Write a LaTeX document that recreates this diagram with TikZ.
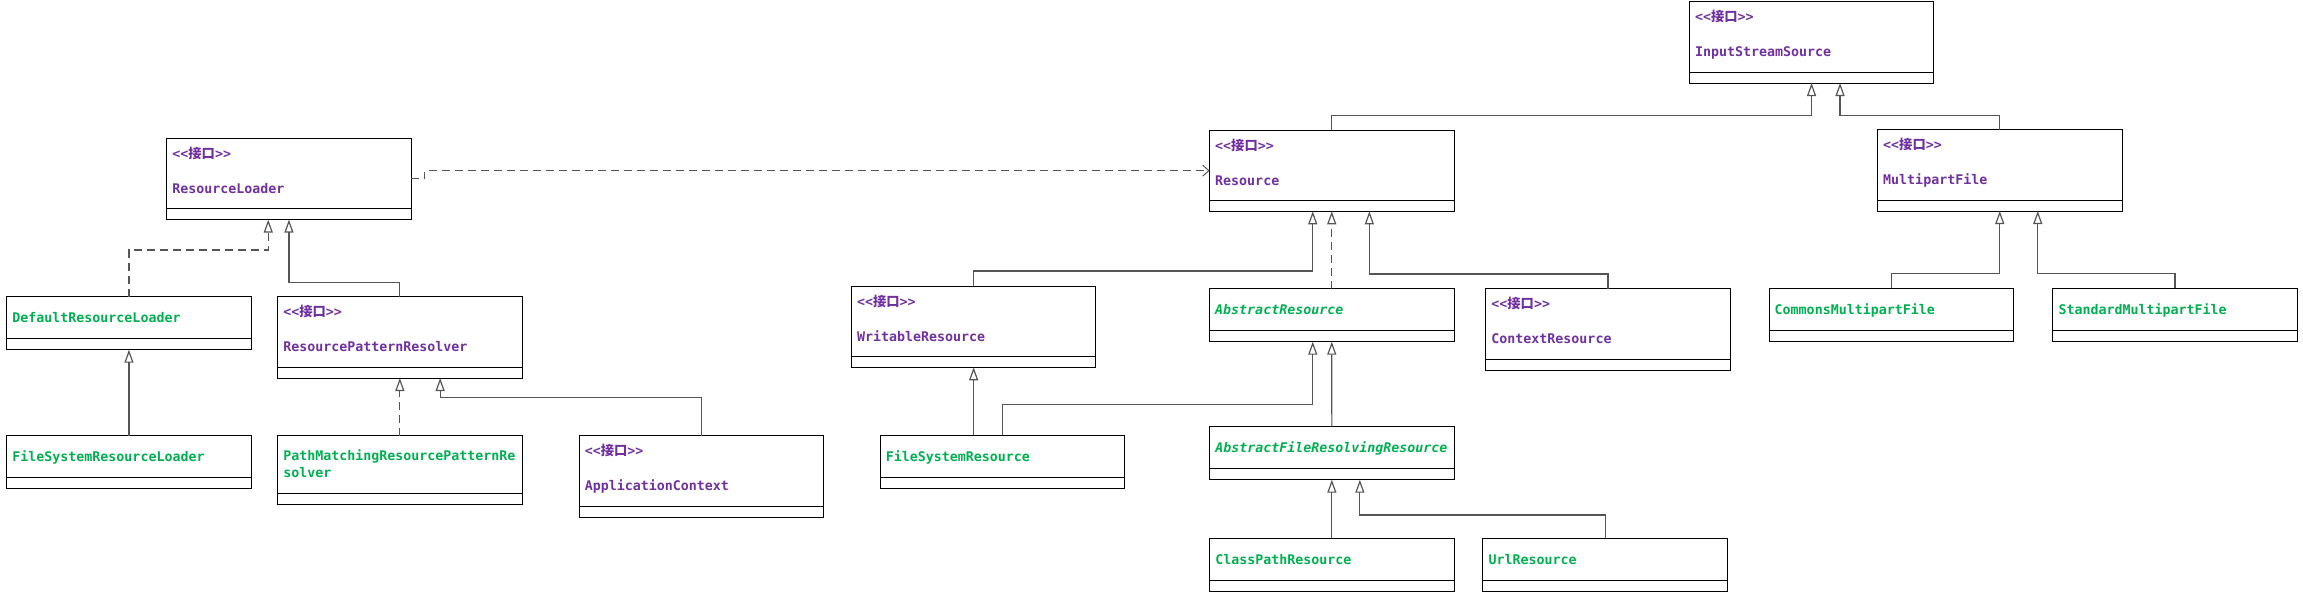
\documentclass[tikz,border=0pt]{standalone}
\usepackage{fontspec}
\setmonofont{DejaVu Sans Mono}
\newfontfamily\cjk{Noto Sans CJK SC}
\usetikzlibrary{arrows.meta,calc}
\definecolor{ipurple}{HTML}{7030A0}
\definecolor{cgreen}{HTML}{00B050}
\definecolor{conn}{HTML}{555555}
\tikzset{
  box/.style={draw=black, line width=1pt, anchor=north west, minimum width=244.5pt, inner sep=0pt, outer sep=0pt},
  ibox/.style={box, minimum height=81.3pt},
  cbox/.style={box, minimum height=53pt},
  pbox/.style={box, minimum height=68.6pt},
  lbl/.style={anchor=base west, inner sep=0pt, font=\ttfamily\bfseries\fontsize{13.3}{16}\selectfont},
  sepline/.style={draw=black, line width=1pt},
  gen/.style={draw=conn, line width=1.2pt, -{Triangle[open,length=13pt,width=9pt]}},
  realz/.style={gen, dash pattern=on 8pt off 5pt},
  dep/.style={draw=conn, line width=1pt, dash pattern=on 8pt off 5pt, -{Straight Barb[length=6pt,width=11pt]}}
}
\newcommand\ibx[4]{%
  \node[ibox] (#1) at (#2,#3) {};
  \node[lbl,text=ipurple] (#1s) at ([xshift=5.5pt,yshift=-20pt]#1.north west) {<<{\cjk 接口}>>};
  \node[lbl,text=ipurple] (#1n) at ([xshift=5.5pt,yshift=-55pt]#1.north west) {#4};
  \draw[sepline] ([yshift=11pt]#1.south west) -- ([yshift=11pt]#1.south east);}
\newcommand\cbx[4]{%
  \node[cbox] (#1) at (#2,#3) {};
  \node[lbl,text=cgreen] (#1n) at ([xshift=5.5pt,yshift=-26pt]#1.north west) {#4};
  \draw[sepline] ([yshift=11pt]#1.south west) -- ([yshift=11pt]#1.south east);}
\begin{document}
\begin{tikzpicture}[x=1pt,y=-1pt]
\useasboundingbox (0,0) rectangle (2303,592);
% interfaces
\ibx{ISS}{1689.3}{1.7}{InputStreamSource}
\ibx{RL}{166.7}{138.3}{ResourceLoader}
\ibx{Res}{1209.5}{130}{Resource}
\ibx{MF}{1877.5}{129.7}{MultipartFile}
\ibx{RPR}{277.6}{296.7}{ResourcePatternResolver}
\ibx{AC}{579.1}{435.7}{ApplicationContext}
\ibx{WR}{851.4}{286}{WritableResource}
\ibx{CR}{1485.7}{288.7}{ContextResource}
% classes
\cbx{DRL}{6.7}{296.7}{DefaultResourceLoader}
\cbx{FSRL}{6.7}{435.7}{FileSystemResourceLoader}
\cbx{AR}{1209.5}{288.7}{\itshape AbstractResource}
\cbx{FSR}{880.1}{435.3}{FileSystemResource}
\cbx{AFRR}{1209.6}{426.7}{\itshape AbstractFileResolvingResource}
\cbx{CPR}{1209.6}{538}{ClassPathResource}
\cbx{UrlR}{1482.9}{538}{UrlResource}
\cbx{CMF}{1769}{288.3}{CommonsMultipartFile}
\cbx{SMF}{2052.8}{288.3}{StandardMultipartFile}
% two-line class
\node[pbox] (PM) at (277.6,435.7) {};
\node[lbl,text=cgreen] (PMa) at ([xshift=5.5pt,yshift=-25pt]PM.north west) {PathMatchingResourcePatternRe};
\node[lbl,text=cgreen] (PMb) at ([xshift=5.5pt,yshift=-41.6pt]PM.north west) {solver};
\draw[sepline] ([yshift=11pt]PM.south west) -- ([yshift=11pt]PM.south east);
% connectors
\draw[realz] (DRL.north) -- ++(0,-46.7) -| ([xshift=-20.7pt]RL.south);
\draw[gen] (RPR.north) -- ++(0,-14) -| (RL.south);
\draw[gen] (FSRL.north) -- (DRL.south);
\draw[realz] (PM.north) -- (RPR.south);
\draw[gen] (AC.north) -- ++(0,-38.4) -| ([xshift=40.3pt]RPR.south);
\draw[gen] (Res.north) -- ++(0,-14.3) -| (ISS.south);
\draw[gen] (MF.north) -- ++(0,-14) -| ([xshift=28.5pt]ISS.south);
\draw[gen] (CMF.north) -- ++(0,-14.6) -| (MF.south);
\draw[gen] (SMF.north) -- ++(0,-14.6) -| ([xshift=38pt]MF.south);
\draw[gen] (WR.north) -- ++(0,-15) -| ([xshift=-19pt]Res.south);
\draw[realz] (AR.north) -- (Res.south);
\draw[gen] (CR.north) -- ++(0,-14.7) -| ([xshift=37.6pt]Res.south);
\draw[gen] (WR.south |- FSR.north) -- (WR.south);
\draw[gen] (FSR.north) -- ++(0,-31) -| ([xshift=-19pt]AR.south);
\draw[gen] (AFRR.north) -- (AR.south);
\draw[gen] (CPR.north) -- (AFRR.south);
\draw[gen] (UrlR.north) -- ++(0,-23) -| ([xshift=28pt]AFRR.south);
\draw[dep] (RL.east) -- ++(13.7,0) |- (Res.west);
\end{tikzpicture}
\end{document}
